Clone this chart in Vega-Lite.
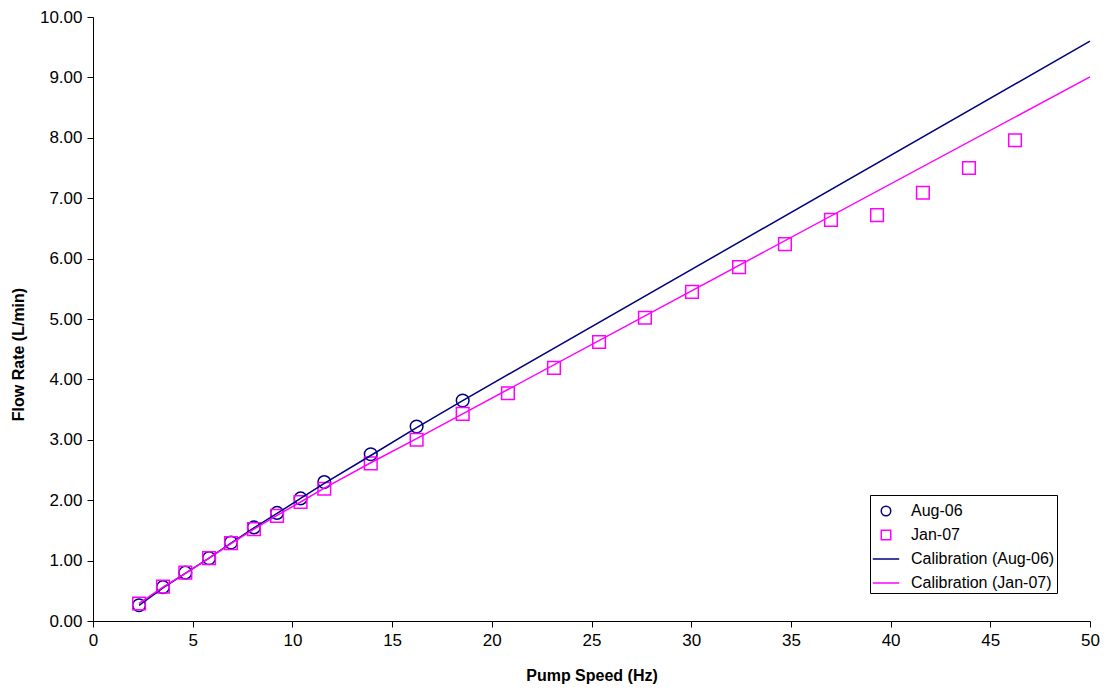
{
  "$schema": "https://vega.github.io/schema/vega-lite/v6.json",
  "width": 997,
  "height": 604,
  "autosize": {"type": "none"},
  "padding": {"left": 93, "top": 17, "right": 17, "bottom": 71},
  "background": "white",
  "config": {
    "view": {"stroke": null},
    "font": "Liberation Sans",
    "axis": {
      "grid": false,
      "domainColor": "black",
      "domainWidth": 1,
      "tickColor": "black",
      "tickSize": 6,
      "labelFont": "Liberation Sans",
      "labelFontSize": 17,
      "labelColor": "black",
      "titleFont": "Liberation Sans",
      "titleFontSize": 16,
      "titleFontWeight": "bold",
      "titleColor": "black"
    },
    "legend": {"labelLimit": 300}
  },
  "data": {
    "values": [
      {"x": 2.31, "y": 0.26, "series": "Aug-06"},
      {"x": 3.51, "y": 0.56, "series": "Aug-06"},
      {"x": 4.63, "y": 0.80, "series": "Aug-06"},
      {"x": 5.82, "y": 1.04, "series": "Aug-06"},
      {"x": 6.92, "y": 1.30, "series": "Aug-06"},
      {"x": 8.07, "y": 1.55, "series": "Aug-06"},
      {"x": 9.23, "y": 1.79, "series": "Aug-06"},
      {"x": 10.41, "y": 2.03, "series": "Aug-06"},
      {"x": 11.60, "y": 2.30, "series": "Aug-06"},
      {"x": 13.93, "y": 2.76, "series": "Aug-06"},
      {"x": 16.23, "y": 3.22, "series": "Aug-06"},
      {"x": 18.54, "y": 3.65, "series": "Aug-06"},
      {"x": 2.31, "y": 0.29, "series": "Jan-07"},
      {"x": 3.51, "y": 0.57, "series": "Jan-07"},
      {"x": 4.63, "y": 0.80, "series": "Jan-07"},
      {"x": 5.82, "y": 1.04, "series": "Jan-07"},
      {"x": 6.92, "y": 1.29, "series": "Jan-07"},
      {"x": 8.07, "y": 1.52, "series": "Jan-07"},
      {"x": 9.23, "y": 1.74, "series": "Jan-07"},
      {"x": 10.41, "y": 1.97, "series": "Jan-07"},
      {"x": 11.60, "y": 2.19, "series": "Jan-07"},
      {"x": 13.93, "y": 2.61, "series": "Jan-07"},
      {"x": 16.23, "y": 3.00, "series": "Jan-07"},
      {"x": 18.54, "y": 3.43, "series": "Jan-07"},
      {"x": 20.81, "y": 3.77, "series": "Jan-07"},
      {"x": 23.12, "y": 4.19, "series": "Jan-07"},
      {"x": 25.38, "y": 4.62, "series": "Jan-07"},
      {"x": 27.68, "y": 5.02, "series": "Jan-07"},
      {"x": 30.04, "y": 5.45, "series": "Jan-07"},
      {"x": 32.40, "y": 5.86, "series": "Jan-07"},
      {"x": 34.70, "y": 6.24, "series": "Jan-07"},
      {"x": 37.01, "y": 6.64, "series": "Jan-07"},
      {"x": 39.32, "y": 6.72, "series": "Jan-07"},
      {"x": 41.62, "y": 7.09, "series": "Jan-07"},
      {"x": 43.93, "y": 7.50, "series": "Jan-07"},
      {"x": 46.24, "y": 7.96, "series": "Jan-07"},
      {"x": 2.31, "y": 0.26, "series": "Calibration (Aug-06)"},
      {"x": 3.51, "y": 0.55, "series": "Calibration (Aug-06)"},
      {"x": 4.63, "y": 0.79, "series": "Calibration (Aug-06)"},
      {"x": 5.82, "y": 1.04, "series": "Calibration (Aug-06)"},
      {"x": 6.92, "y": 1.29, "series": "Calibration (Aug-06)"},
      {"x": 8.07, "y": 1.54, "series": "Calibration (Aug-06)"},
      {"x": 9.23, "y": 1.78, "series": "Calibration (Aug-06)"},
      {"x": 10.41, "y": 2.03, "series": "Calibration (Aug-06)"},
      {"x": 11.60, "y": 2.28, "series": "Calibration (Aug-06)"},
      {"x": 13.93, "y": 2.74, "series": "Calibration (Aug-06)"},
      {"x": 16.23, "y": 3.20, "series": "Calibration (Aug-06)"},
      {"x": 18.54, "y": 3.65, "series": "Calibration (Aug-06)"},
      {"x": 50, "y": 9.60, "series": "Calibration (Aug-06)"},
      {"x": 2.31, "y": 0.29, "series": "Calibration (Jan-07)"},
      {"x": 3.51, "y": 0.56, "series": "Calibration (Jan-07)"},
      {"x": 4.63, "y": 0.79, "series": "Calibration (Jan-07)"},
      {"x": 5.82, "y": 1.04, "series": "Calibration (Jan-07)"},
      {"x": 6.92, "y": 1.28, "series": "Calibration (Jan-07)"},
      {"x": 8.07, "y": 1.52, "series": "Calibration (Jan-07)"},
      {"x": 9.23, "y": 1.75, "series": "Calibration (Jan-07)"},
      {"x": 10.41, "y": 1.97, "series": "Calibration (Jan-07)"},
      {"x": 11.60, "y": 2.20, "series": "Calibration (Jan-07)"},
      {"x": 13.93, "y": 2.62, "series": "Calibration (Jan-07)"},
      {"x": 16.23, "y": 3.02, "series": "Calibration (Jan-07)"},
      {"x": 18.54, "y": 3.43, "series": "Calibration (Jan-07)"},
      {"x": 50, "y": 9.01, "series": "Calibration (Jan-07)"}
    ]
  },
  "encoding": {
    "x": {
      "field": "x", "type": "quantitative",
      "scale": {"domain": [0, 50], "nice": false, "zero": false},
      "axis": {"title": "Pump Speed (Hz)", "values": [0,5,10,15,20,25,30,35,40,45,50], "labelPadding": 5, "titlePadding": 19, "labelFlush": false}
    },
    "y": {
      "field": "y", "type": "quantitative",
      "scale": {"domain": [0, 10], "nice": false},
      "axis": {"title": "Flow Rate (L/min)", "values": [0,1,2,3,4,5,6,7,8,9,10], "format": ".2f", "labelPadding": 5, "titlePadding": 13, "titleY": 337, "labelFlush": false}
    },
    "color": {
      "field": "series", "type": "nominal",
      "scale": {
        "domain": ["Aug-06", "Jan-07", "Calibration (Aug-06)", "Calibration (Jan-07)"],
        "range": ["#000080", "#FF00FF", "#000080", "#FF00FF"]
      },
      "legend": {
        "title": null,
        "orient": "none",
        "legendX": 777,
        "legendY": 478,
        "strokeColor": "black",
        "fillColor": "white",
        "padding": 2,
        "labelFont": "Liberation Sans",
        "labelFontSize": 16,
        "labelColor": "black",
        "symbolSize": 300,
        "symbolStrokeWidth": 1.5,
        "labelOffset": 11,
        "rowPadding": 2,
        "encode": {
          "symbols": {
            "update": {
              "shape": {"signal": "datum.value === 'Aug-06' ? 'circle' : (datum.value === 'Jan-07' ? 'square' : 'stroke')"},
              "size": {"signal": "datum.value === 'Aug-06' || datum.value === 'Jan-07' ? 90 : 700"},
              "fill": {"value": "transparent"}
            }
          }
        }
      }
    }
  },
  "layer": [
    {
      "transform": [{"filter": "datum.series === 'Aug-06' || datum.series === 'Jan-07'"}],
      "mark": {"type": "point", "filled": false, "strokeWidth": 1.5, "size": 160, "opacity": 1},
      "encoding": {
        "shape": {
          "field": "series", "type": "nominal",
          "scale": {"domain": ["Aug-06", "Jan-07"], "range": ["circle", "square"]},
          "legend": null
        }
      }
    },
    {
      "transform": [{"filter": "datum.series === 'Calibration (Aug-06)' || datum.series === 'Calibration (Jan-07)'"}],
      "mark": {"type": "line", "strokeWidth": 1.5},
      "encoding": {"detail": {"field": "series", "type": "nominal"}}
    }
  ]
}
